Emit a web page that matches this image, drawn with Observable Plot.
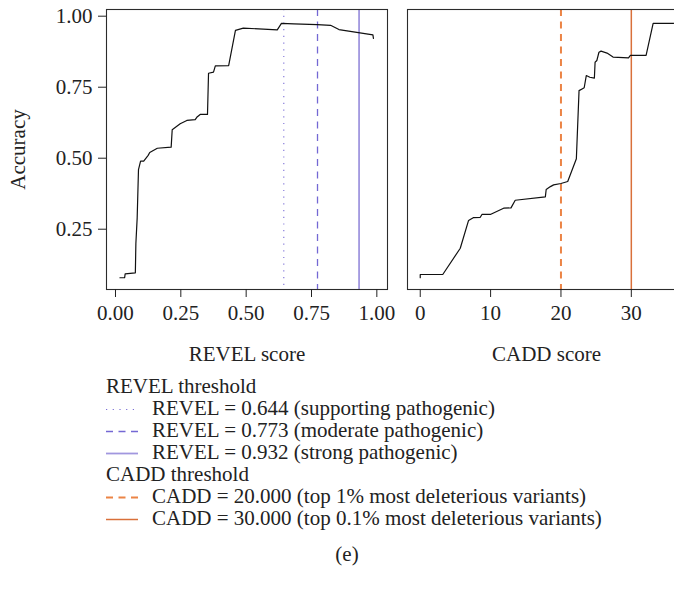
<!DOCTYPE html>
<html>
<head>
<meta charset="utf-8">
<script src="https://cdn.jsdelivr.net/npm/d3@7"></script>
<script src="https://cdn.jsdelivr.net/npm/@observablehq/plot@0.6"></script>
<style>
  html, body { margin: 0; padding: 0; background: #fff; }
  #clip { width: 674px; height: 597px; overflow: hidden; position: relative; }
  #figure { width: 694px; font-family: "Liberation Serif", serif; color: #222; }
  #panels { display: flex; align-items: flex-start; }
  #legend { margin-top: 3px; padding-left: 106px; font-size: 21px; line-height: 22px; }
  .lg-title { height: 22px; white-space: nowrap; }
  .lg-row { position: relative; height: 22px; padding-left: 46px; white-space: nowrap; }
  .lg-row svg { position: absolute; left: 0; top: 0; }
  #tag { text-align: center; font-size: 21px; margin-top: 14px; line-height: 22px; }
</style>
</head>
<body>
<div id="clip">
  <div id="figure">
    <div id="panels"></div>
    <div id="legend"></div>
    <div id="tag">(e)</div>
  </div>
</div>
<script>
// Accuracy as a function of the REVEL score cut-off
const revelScore = [0.017, 0.035, 0.037, 0.076, 0.078, 0.083, 0.088, 0.092, 0.096, 0.108, 0.125, 0.131, 0.160, 0.213, 0.217, 0.2475, 0.273, 0.305, 0.311, 0.324, 0.352, 0.356, 0.375, 0.382, 0.433, 0.459, 0.489, 0.619, 0.635, 0.682, 0.772, 0.823, 0.855, 0.985, 0.987];
const revelAccuracy = [0.079, 0.079, 0.093, 0.0965, 0.20, 0.29, 0.46, 0.475, 0.49, 0.49, 0.51, 0.52, 0.535, 0.539, 0.600, 0.621, 0.633, 0.636, 0.644, 0.654, 0.654, 0.799, 0.803, 0.825, 0.826, 0.950, 0.958, 0.952, 0.975, 0.973, 0.970, 0.968, 0.953, 0.934, 0.922];

// Accuracy as a function of the CADD score cut-off
const caddScore = [0, 0, 3.2, 5.69, 6.87, 7.59, 8.53, 8.77, 9.96, 11.85, 12.9, 13.5, 17.78, 17.9, 18.5, 18.96, 20.0, 20.96, 22.19, 22.57, 23.0, 23.3, 23.6, 24.1, 24.75, 24.85, 25.1, 25.4, 25.7, 26.55, 27.4, 29.6, 29.87, 32.1, 33.1, 36.0];
const caddAccuracy = [0.079, 0.0905, 0.0905, 0.183, 0.281, 0.291, 0.292, 0.302, 0.302, 0.324, 0.325, 0.352, 0.364, 0.390, 0.400, 0.406, 0.411, 0.418, 0.498, 0.738, 0.744, 0.748, 0.791, 0.785, 0.782, 0.838, 0.844, 0.873, 0.877, 0.870, 0.856, 0.853, 0.862, 0.862, 0.975, 0.975];

// Reference thresholds
const revelThresholds = [0.644, 0.773, 0.932];
const revelThresholdNotes = ["supporting pathogenic", "moderate pathogenic", "strong pathogenic"];
const caddThresholds = [20, 30];
const caddThresholdNotes = ["top 1% most deleterious variants", "top 0.1% most deleterious variants"];

// Tick labels
const accuracyTicks = [0.25, 0.50, 0.75, 1.00];
const revelTicks = [0, 0.25, 0.5, 0.75, 1.0];
const caddTicks = [0, 10, 20, 30];

// Line styles for the threshold rules
const revelStyles = [
  {stroke: "#7b6fd6", strokeWidth: 1.1, strokeDasharray: "1.2,5.5"},
  {stroke: "#7468d4", strokeWidth: 1.3, strokeDasharray: "7,5.5"},
  {stroke: "#a197df", strokeWidth: 1.8, strokeDasharray: null}
];
const caddStyles = [
  {stroke: "#ec8445", strokeWidth: 2, strokeDasharray: "7,5.5"},
  {stroke: "#d9703a", strokeWidth: 1.5, strokeDasharray: null}
];

const revelRows = revelScore.map((s, i) => ({score: s, accuracy: revelAccuracy[i]}));
const caddRows = caddScore.map((s, i) => ({score: s, accuracy: caddAccuracy[i]}));

const H = 372;
const common = {
  height: H,
  marginTop: 9,
  marginBottom: H - 289,
  style: {fontFamily: "Liberation Serif, serif", fontSize: "21px", color: "#222", background: "white", overflow: "visible"},
  y: {domain: [0.0377, 1.0236]}
};

const left = Plot.plot({
  ...common,
  width: 397,
  marginLeft: 106,
  marginRight: 10,
  x: {domain: [-0.0344, 1.0408]},
  marks: [
    ...revelThresholds.map((t, i) => Plot.ruleX([t], {...revelStyles[i]})),
    Plot.line(revelRows, {x: "score", y: "accuracy", stroke: "#111", strokeWidth: 1.2}),
    Plot.frame({stroke: "#2b2b2b", strokeWidth: 1.1}),
    Plot.axisX({ticks: revelTicks, tickFormat: d3.format(".2f"), tickSize: 8, tickPadding: 8,
      label: "REVEL score", labelAnchor: "center", labelArrow: "none", labelOffset: 71}),
    Plot.axisY({ticks: accuracyTicks, tickFormat: d3.format(".2f"), tickSize: 8, tickPadding: 6,
      label: "Accuracy", labelAnchor: "center", labelArrow: "none", labelOffset: 96})
  ]
});

const right = Plot.plot({
  ...common,
  width: 297,
  marginLeft: 10,
  marginRight: 9,
  x: {domain: [-1.81, 37.7]},
  marks: [
    ...caddThresholds.map((t, i) => Plot.ruleX([t], {...caddStyles[i]})),
    Plot.line(caddRows, {x: "score", y: "accuracy", stroke: "#111", strokeWidth: 1.2}),
    Plot.frame({stroke: "#2b2b2b", strokeWidth: 1.1}),
    Plot.axisX({ticks: caddTicks, tickFormat: d3.format("d"), tickSize: 8, tickPadding: 8,
      label: "CADD score", labelAnchor: "center", labelArrow: "none", labelOffset: 71}),
    Plot.axisY({ticks: [], label: null})
  ]
});

document.getElementById("panels").append(left, right);

// Legend of threshold line types
function sample(style) {
  const ns = "http://www.w3.org/2000/svg";
  const svg = document.createElementNS(ns, "svg");
  svg.setAttribute("width", 34);
  svg.setAttribute("height", 22);
  const line = document.createElementNS(ns, "line");
  line.setAttribute("x1", 0);
  line.setAttribute("x2", 32);
  line.setAttribute("y1", 12.5);
  line.setAttribute("y2", 12.5);
  line.setAttribute("stroke", style.stroke);
  line.setAttribute("stroke-width", style.strokeWidth);
  if (style.strokeDasharray) line.setAttribute("stroke-dasharray", style.strokeDasharray);
  svg.append(line);
  return svg;
}
const legend = document.getElementById("legend");
function addTitle(text) {
  const d = document.createElement("div");
  d.className = "lg-title";
  d.textContent = text;
  legend.append(d);
}
function addRow(style, text) {
  const d = document.createElement("div");
  d.className = "lg-row";
  d.append(sample(style), document.createTextNode(text));
  legend.append(d);
}
const f3 = d3.format(".3f");
addTitle("REVEL threshold");
revelThresholds.forEach((t, i) => addRow(revelStyles[i], `REVEL = ${f3(t)} (${revelThresholdNotes[i]})`));
addTitle("CADD threshold");
caddThresholds.forEach((t, i) => addRow(caddStyles[i], `CADD = ${f3(t)} (${caddThresholdNotes[i]})`));
</script>
</body>
</html>
